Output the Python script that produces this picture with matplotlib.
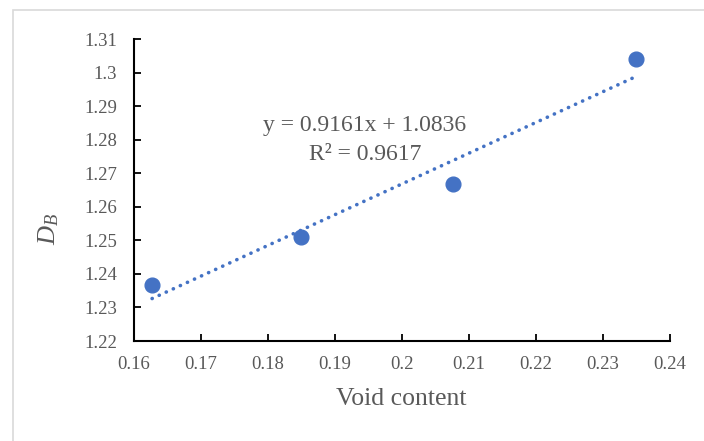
import matplotlib
matplotlib.use("Agg")
import matplotlib.pyplot as plt
import matplotlib.patches as mpatches
import numpy as np

void_content = [0.1627, 0.1849, 0.2076, 0.2349]
db_values = [1.2367, 1.2510, 1.2667, 1.3039]
slope = 0.9161
intercept = 1.0836
r2 = 0.9617
xticks = [0.16, 0.17, 0.18, 0.19, 0.2, 0.21, 0.22, 0.23, 0.24]
yticks = [1.22, 1.23, 1.24, 1.25, 1.26, 1.27, 1.28, 1.29, 1.3, 1.31]

plt.rcParams['font.family'] = ['Liberation Serif', 'DejaVu Serif']
plt.rcParams['mathtext.fontset'] = 'custom'
plt.rcParams['mathtext.it'] = 'Liberation Serif:italic'
plt.rcParams['mathtext.rm'] = 'Liberation Serif'

W, H = 704, 441
fig = plt.figure(figsize=(W/100, H/100), dpi=100)
ax = fig.add_axes([134/W, 1-341/H, (670-134)/W, (341-39)/H])

gray = '#595959'
blue = '#4472C4'

# frame
fig.patches.append(mpatches.Rectangle((12.5/W, -0.1), 1.2, 1 - 9.5/H + 0.1,
                                      transform=fig.transFigure, fill=False,
                                      edgecolor='#D9D9D9', lw=1.2, zorder=0))

x = np.array(void_content)
xs = np.array([x.min(), x.max()])
ax.plot(xs, slope*xs + intercept, linestyle=(0, (0.05, 2.1)), color=blue, lw=2.6,
        dash_capstyle='round', zorder=2)
ax.plot(void_content, db_values, 'o', color=blue, ms=10.6, mec=blue, zorder=3)

ax.set_xlim(0.16, 0.24)
ax.set_ylim(1.22, 1.31)
ax.set_xticks(xticks)
ax.set_yticks(yticks)
ax.set_xticklabels([f"{v:g}" for v in xticks])
ax.set_yticklabels([f"{v:g}" for v in yticks])
ax.tick_params(direction='in', length=5, width=1.3, colors='black',
               labelcolor=gray, labelsize=13.5)
ax.tick_params(axis='y', pad=12)
ax.tick_params(axis='x', pad=11)
for s in ['top', 'right']:
    ax.spines[s].set_visible(False)
for s in ['left', 'bottom']:
    ax.spines[s].set_linewidth(1.5)

fig.text(401/W, 1-399/H, 'Void content', ha='center', va='center',
         fontsize=18.5, color=gray)
fig.text(49/W, 1-229/H, r'$D_B$', ha='center', va='center', rotation=90,
         fontsize=19, color=gray)

fig.text(365/W, 1-126/H, f'y = {slope}x + {intercept}', ha='center', va='center',
         fontsize=17, color=gray)
fig.text(365/W, 1-155/H, f'R² = {r2}', ha='center', va='center',
         fontsize=17, color=gray)

fig.savefig('out.png', dpi=100, facecolor='white')
